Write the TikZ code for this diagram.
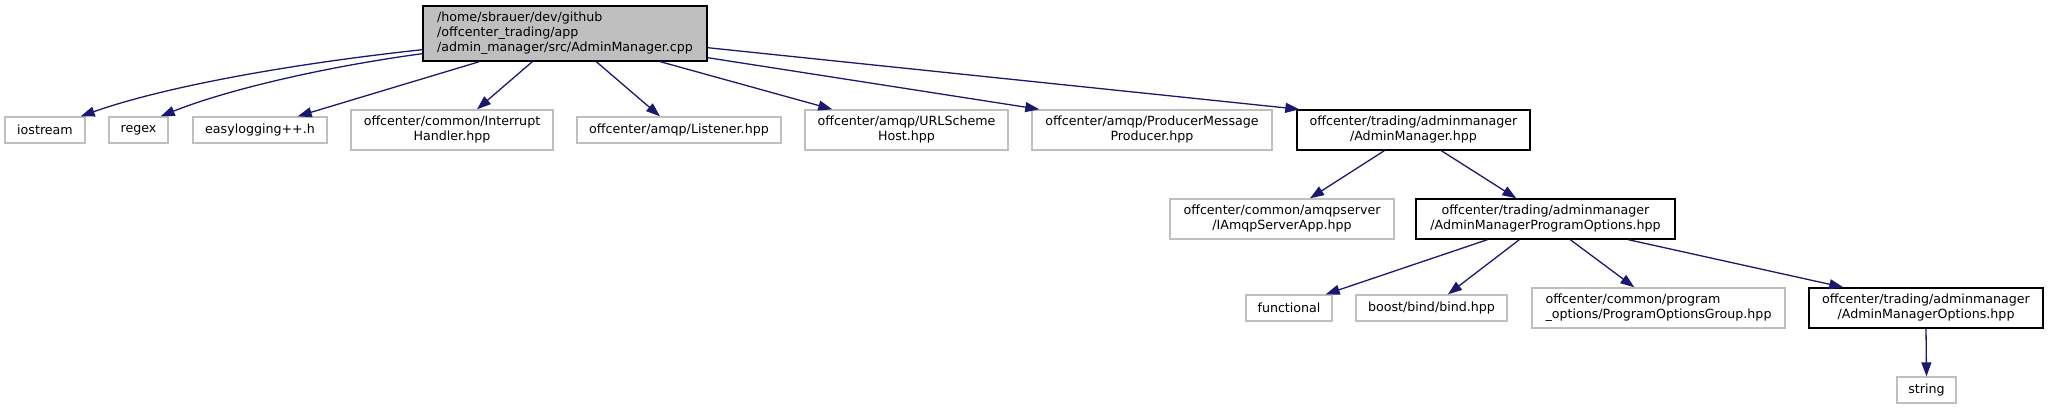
\documentclass[tikz,border=0pt]{standalone}
\usepackage{fontspec}
\setmainfont{DejaVu Sans}
\usetikzlibrary{arrows.meta}
\definecolor{nodegray}{HTML}{BFBFBF}
\definecolor{rootfill}{HTML}{BFBFBF}
\definecolor{edgeblue}{HTML}{191970}
\newcommand{\dxfont}{\fontsize{12.65}{15}\selectfont}
\begin{document}
\begin{tikzpicture}[x=1pt,y=-1pt,
  gbox/.style={draw=nodegray, line width=1.4pt, fill=white, inner sep=0pt, align=center, font=\dxfont, text=black},
  bbox/.style={gbox, draw=black},
  dep/.style={draw=edgeblue, line width=1.3pt, -{Triangle[length=14pt,width=10pt]}, fill=none},
]
\useasboundingbox (0,0) rectangle (2049,409);
% nodes
\node[bbox, fill=rootfill, align=left, minimum width=284pt, minimum height=55pt] (root) at (565,33.5)
  {/home/sbrauer/dev/github\\/offcenter\_trading/app\\/admin\_manager/src/AdminManager.cpp};
\node[gbox, minimum width=80pt, minimum height=26pt] (iostream) at (45,130) {iostream};
\node[gbox, minimum width=59pt, minimum height=26pt] (regex) at (138.5,130) {regex};
\node[gbox, minimum width=134pt, minimum height=26pt] (easylog) at (260,130) {easylogging++.h};
\node[gbox, minimum width=202pt, minimum height=40pt] (interrupt) at (452,130) {offcenter/common/Interrupt\\Handler.hpp};
\node[gbox, minimum width=204pt, minimum height=26pt] (listener) at (679,130) {offcenter/amqp/Listener.hpp};
\node[gbox, minimum width=203pt, minimum height=40pt] (urlscheme) at (906.5,130) {offcenter/amqp/URLScheme\\Host.hpp};
\node[gbox, minimum width=240pt, minimum height=40pt] (producer) at (1152,130) {offcenter/amqp/ProducerMessage\\Producer.hpp};
\node[bbox, minimum width=233pt, minimum height=40pt] (amhpp) at (1413.5,130) {offcenter/trading/adminmanager\\/AdminManager.hpp};
\node[gbox, minimum width=224pt, minimum height=40pt] (iamqp) at (1282,219) {offcenter/common/amqpserver\\/IAmqpServerApp.hpp};
\node[bbox, minimum width=259pt, minimum height=40pt] (ampo) at (1545.5,219) {offcenter/trading/adminmanager\\/AdminManagerProgramOptions.hpp};
\node[gbox, minimum width=86pt, minimum height=26pt] (functional) at (1289,308) {functional};
\node[gbox, minimum width=151pt, minimum height=26pt] (boost) at (1431.5,308) {boost/bind/bind.hpp};
\node[gbox, align=left, minimum width=253pt, minimum height=40pt] (pog) at (1658.5,308) {offcenter/common/program\\\_options/ProgramOptionsGroup.hpp};
\node[bbox, minimum width=234pt, minimum height=40pt] (amopt) at (1926,308) {offcenter/trading/adminmanager\\/AdminManagerOptions.hpp};
\node[gbox, minimum width=59pt, minimum height=26pt] (string) at (1926.5,390) {string};
% edges
\draw[dep] ([yshift=12pt]root.south west) .. controls +(-130pt,-14pt) and +(85pt,30pt) .. ([xshift=-5pt]iostream.north east);
\draw[dep] ([yshift=8pt]root.south west) .. controls +(-90pt,-12pt) and +(70pt,28pt) .. ([xshift=-8pt]regex.north east);
\draw[dep] ([xshift=57pt]root.south west) -- ([xshift=-30pt]easylog.north east);
\draw[dep] ([xshift=110pt]root.south west) -- ([xshift=25pt]interrupt.north);
\draw[dep] ([xshift=174pt]root.south west) -- ([xshift=-19pt]listener.north);
\draw[dep] ([xshift=238pt]root.south west) -- ([xshift=28pt]urlscheme.north west);
\draw[dep] ([yshift=4pt]root.south east) -- ([xshift=8pt]producer.north west);
\draw[dep] ([yshift=14pt]root.south east) -- ([xshift=3pt]amhpp.north west);
\draw[dep] ([xshift=88pt]amhpp.south west) -- ([xshift=28pt]iamqp.north);
\draw[dep] ([xshift=145pt]amhpp.south west) -- ([xshift=101pt]ampo.north west);
\draw[dep] ([xshift=72pt]ampo.south west) -- ([xshift=-7pt]functional.north east);
\draw[dep] ([xshift=104pt]ampo.south west) -- ([xshift=16.5pt]boost.north);
\draw[dep] ([xshift=155pt]ampo.south west) -- ([xshift=103pt]pog.north west);
\draw[dep] ([xshift=213pt]ampo.south west) -- ([xshift=35pt]amopt.north west);
\draw[dep] (amopt.south) -- (string.north);
\end{tikzpicture}
\end{document}
